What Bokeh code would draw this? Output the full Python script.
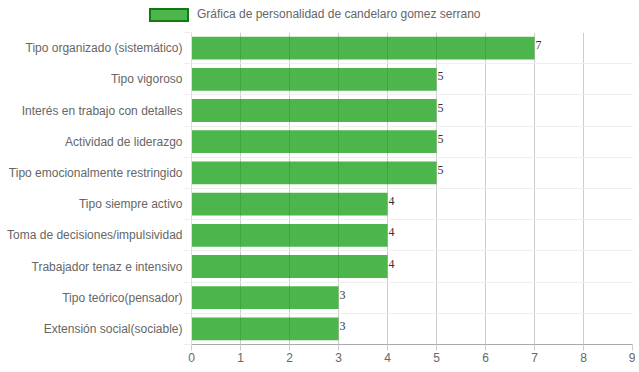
from bokeh.plotting import figure
from bokeh.layouts import column
from bokeh.models import ColumnDataSource, FixedTicker, Range1d, Div
from bokeh.core.properties import value
from bokeh.embed import file_html
from bokeh.resources import INLINE

categories = [
    "Tipo organizado (sistemático)",
    "Tipo vigoroso",
    "Interés en trabajo con detalles",
    "Actividad de liderazgo",
    "Tipo emocionalmente restringido",
    "Tipo siempre activo",
    "Toma de decisiones/impulsividad",
    "Trabajador tenaz e intensivo",
    "Tipo teórico(pensador)",
    "Extensión social(sociable)",
]
values = [7, 5, 5, 5, 5, 4, 4, 4, 3, 3]
x_ticks = [0, 1, 2, 3, 4, 5, 6, 7, 8, 9]
series_name = "Gráfica de personalidad de candelaro gomez serrano"

BAR_FILL = "#009600"
BAR_ALPHA = 0.7

n = len(categories)
ypos = [n - i - 0.5 for i in range(n)]
src = ColumnDataSource(dict(y=ypos, v=values, lbl=[str(v) for v in values], cat=categories))

# ---- legend strip (HTML) ----
legend_html = (
    '<div style="display:flex;align-items:center;height:29px;padding-left:149px;">'
    '<span style="display:inline-block;box-sizing:border-box;width:40px;height:14px;'
    'background:rgba(0,150,0,0.7);border:2px solid #117a11;"></span>'
    '<span style="margin-left:8px;font-family:\'Liberation Sans\';font-size:12px;color:#666666;'
    'white-space:nowrap;">' + series_name + '</span></div>'
)
top = Div(text=legend_html, width=635, height=29, margin=0)

# ---- main chart ----
p = figure(width=635, height=335, output_backend="svg", toolbar_location=None,
           x_range=Range1d(0, 9), y_range=Range1d(0, n),
           min_border_left=191, min_border_right=3, min_border_top=3, min_border_bottom=20)
p.outline_line_color = None
p.background_fill_color = "white"

p.hbar(y="y", right="v", left=0, height=0.73, source=src,
       fill_color=BAR_FILL, fill_alpha=BAR_ALPHA, line_color=None)
p.text(x="v", y="y", text="lbl", source=src, x_offset=1, y_offset=-3,
       text_baseline="middle", text_align="left",
       text_font=value("Liberation Serif"), text_font_size="12px", text_color="#333333")

# x axis
p.xaxis.ticker = FixedTicker(ticks=x_ticks)
p.xaxis.axis_line_color = "#aaaaaa"
p.xaxis.major_tick_line_color = "#cccccc"
p.xaxis.major_tick_out = 6
p.xaxis.major_tick_in = 0
p.xaxis.minor_tick_line_color = None
p.xaxis.major_label_standoff = 2
p.xaxis.major_label_text_font = "Liberation Sans"
p.xaxis.major_label_text_font_size = "12px"
p.xaxis.major_label_text_color = "#666666"
p.xgrid.ticker = FixedTicker(ticks=x_ticks)
p.xgrid.grid_line_color = "#cccccc"

# y axis
boundaries = list(range(n + 1))
p.yaxis.ticker = FixedTicker(ticks=ypos, minor_ticks=boundaries)
p.yaxis.major_label_overrides = {y: c for y, c in zip(ypos, categories)}
p.yaxis.axis_line_color = "#dddddd"
p.yaxis.major_tick_line_color = None
p.yaxis.major_tick_out = 0
p.yaxis.major_tick_in = 0
p.yaxis.minor_tick_line_color = "#eeeeee"
p.yaxis.minor_tick_out = 8
p.yaxis.minor_tick_in = 0
p.yaxis.major_label_standoff = 1
p.yaxis.major_label_text_font = "Liberation Sans"
p.yaxis.major_label_text_font_size = "12px"
p.yaxis.major_label_text_color = "#666666"
p.ygrid.ticker = FixedTicker(ticks=boundaries)
p.ygrid.grid_line_color = "#eeeeee"

layout = column(top, p, spacing=0)
open("out.html", "w").write(file_html(layout, INLINE))
